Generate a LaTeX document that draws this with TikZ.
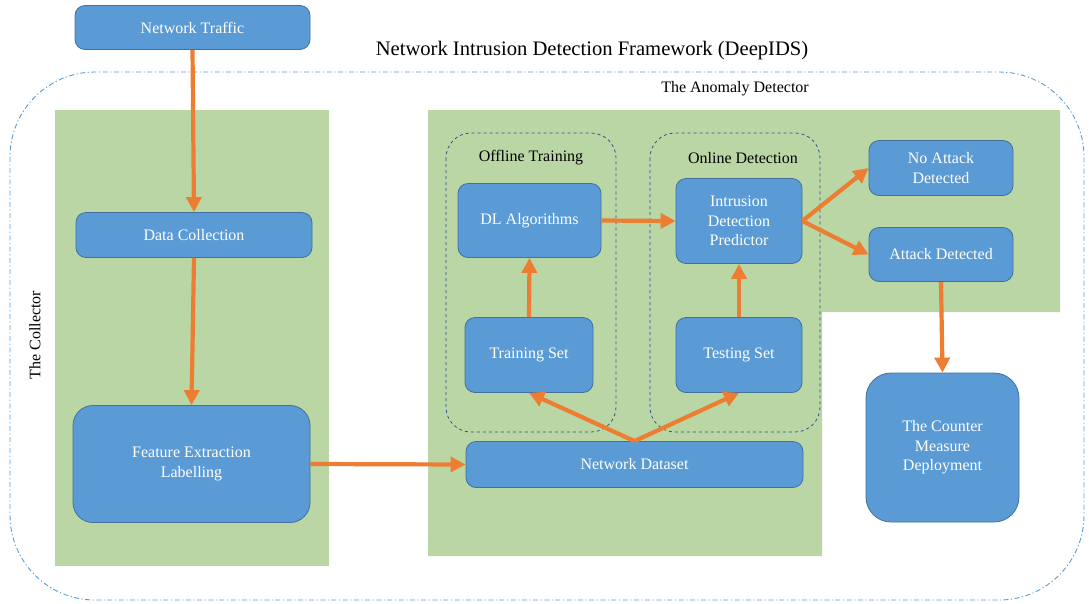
\documentclass[tikz,border=0pt]{standalone}
\usepackage{fontspec}
\setmainfont{Liberation Serif}
\usetikzlibrary{arrows.meta}
\definecolor{boxblue}{RGB}{91,155,213}
\definecolor{boxedge}{RGB}{65,113,156}
\definecolor{zone}{RGB}{185,214,164}
\definecolor{flow}{RGB}{237,125,49}
\definecolor{groupline}{RGB}{47,85,151}
\tikzset{
  block/.style={draw=boxedge, line width=0.8pt, fill=boxblue, text=white,
    rounded corners=10pt, align=center, inner sep=2pt,
    font=\fontsize{16}{19.5}\selectfont},
  flowarrow/.style={draw=flow, line width=4.2pt,
    -{Triangle[length=15pt,width=15pt]}},
  group/.style={draw=groupline, dashed, line width=0.8pt, rounded corners=25pt},
  caption/.style={font=\fontsize{16}{19}\selectfont, text=black}
}
\begin{document}
\begin{tikzpicture}[x=1pt,y=-1pt]
\useasboundingbox (0,0) rectangle (1089,603);

% framework boundary
\draw[boxblue, line width=0.9pt, rounded corners=85pt,
  dash pattern=on 5pt off 2.5pt on 1.2pt off 2.5pt]
  (10,72) rectangle (1084,600);

% collector and anomaly detector zones
\fill[zone] (55,110) rectangle (329,566);
\fill[zone] (428,110) -- (1060,110) -- (1060,312) -- (822,312)
  -- (822,556) -- (428,556) -- cycle;

% training and detection groups
\draw[group] (446,133) rectangle (616,432);
\draw[group] (650,133) rectangle (820,432);

% headings
\node[font=\fontsize{20.6}{24}\selectfont] (title) at (592,51)
  {Network Intrusion Detection Framework (DeepIDS)};
\node[caption] (anomaly) at (735,89) {The Anomaly Detector};
\node[caption, rotate=90] (collector) at (35,335) {The Collector};
\node[caption] (offline) at (531,158) {Offline Training};
\node[caption] (online) at (743,158) {Online Detection};

% processing blocks
\node[block, minimum width=235pt, minimum height=44pt] (traffic) at (192.5,27.5) {Network Traffic};
\node[block, minimum width=236pt, minimum height=45pt] (collect) at (194,235) {Data Collection};
\node[block, minimum width=237pt, minimum height=117pt, rounded corners=20pt] (feature) at (191.5,464) {Feature Extraction\\Labelling};
\node[block, minimum width=143pt, minimum height=74pt] (dl) at (529.5,220.5) {DL Algorithms};
\node[block, minimum width=126pt, minimum height=85pt] (pred) at (739,221) {Intrusion\\Detection\\Predictor};
\node[block, minimum width=128pt, minimum height=75pt] (train) at (529,355) {Training Set};
\node[block, minimum width=126pt, minimum height=75pt] (test) at (739,355) {Testing Set};
\node[block, minimum width=337pt, minimum height=46pt] (dataset) at (634.5,464.5) {Network Dataset};
\node[block, minimum width=144pt, minimum height=55pt] (noatk) at (941,168) {No Attack\\Detected};
\node[block, minimum width=144pt, minimum height=54pt] (atk) at (941,254.5) {Attack Detected};
\node[block, minimum width=153pt, minimum height=149pt, rounded corners=25pt] (counter) at (942.5,447.5) {The Counter\\Measure\\Deployment};

% data flow
\draw[flowarrow] (traffic.south) -- (collect.north);
\draw[flowarrow] (collect.south) -- (feature.north);
\draw[flowarrow] (feature.east) -- (dataset.west);
\draw[flowarrow] (dataset.north) -- (train.south);
\draw[flowarrow] (dataset.north) -- (test.south);
\draw[flowarrow] (train.north) -- (dl.south);
\draw[flowarrow] (test.north) -- (pred.south);
\draw[flowarrow] (dl.east) -- (pred.west);
\draw[flowarrow] (pred.east) -- (noatk.west);
\draw[flowarrow] (pred.east) -- (atk.west);
\draw[flowarrow] (atk.south) -- (counter.north);
\end{tikzpicture}
\end{document}
